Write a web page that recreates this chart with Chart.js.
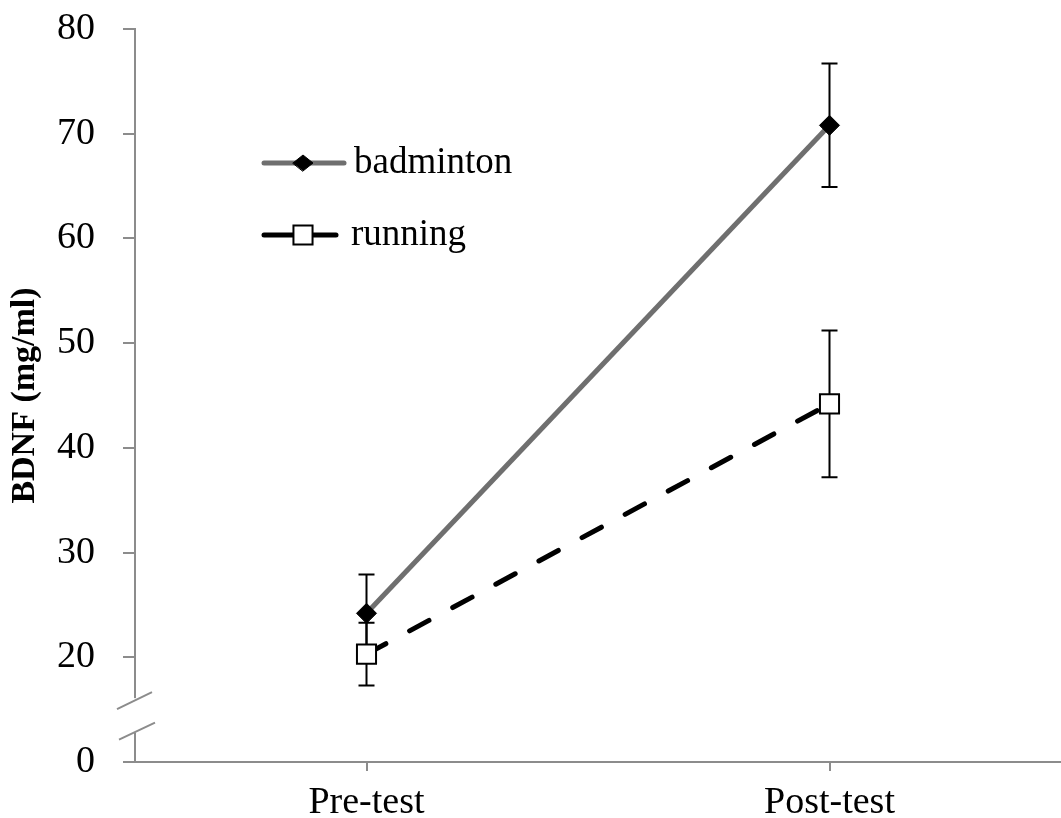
<!DOCTYPE html>
<html>
<head>
<meta charset="utf-8">
<script src="https://cdn.jsdelivr.net/npm/chart.js@4"></script>
<style>
  html, body { margin: 0; padding: 0; background: #fff; }
  #chart { display: block; }
</style>
</head>
<body>
<canvas id="chart" width="1061" height="818"></canvas>
<script>
const categories = ['Pre-test', 'Post-test'];
const badminton = [24.2, 70.8];
const badmintonErr = [3.7, 5.9];
const running = [20.3, 44.2];
const runningErr = [3.0, 7.0];
const yTickValues = [10, 20, 30, 40, 50, 60, 70, 80];
const yTickLabels = ['0', '20', '30', '40', '50', '60', '70', '80'];
const errors = [badmintonErr, runningErr];

const FONT = "'Liberation Serif', 'Times New Roman', serif";
const AXIS = '#8c8c8c';

// error bars, drawn under the markers
const errorBars = {
  id: 'errorBars',
  beforeDatasetsDraw(chart) {
    const ctx = chart.ctx;
    const y = chart.scales.y;
    ctx.save();
    ctx.strokeStyle = '#000';
    ctx.lineWidth = 2;
    chart.data.datasets.forEach((ds, i) => {
      chart.getDatasetMeta(i).data.forEach((pt, j) => {
        const v = ds.data[j], e = errors[i][j];
        const top = y.getPixelForValue(v + e), bot = y.getPixelForValue(v - e);
        ctx.beginPath();
        ctx.moveTo(pt.x, top); ctx.lineTo(pt.x, bot);
        ctx.moveTo(pt.x - 8, top); ctx.lineTo(pt.x + 8, top);
        ctx.moveTo(pt.x - 8, bot); ctx.lineTo(pt.x + 8, bot);
        ctx.stroke();
      });
    });
    ctx.restore();
  }
};

// broken y axis between 0 and 20
const axisBreak = {
  id: 'axisBreak',
  afterDraw(chart) {
    const ctx = chart.ctx;
    const y = chart.scales.y;
    const x0 = chart.chartArea.left;
    const hi = y.getPixelForValue(16.1), lo = y.getPixelForValue(12.8);
    ctx.save();
    ctx.fillStyle = '#fff';
    ctx.fillRect(x0 - 3, hi, 6, lo - hi);
    ctx.strokeStyle = AXIS;
    ctx.lineWidth = 2;
    ctx.beginPath();
    ctx.moveTo(x0 - 18, hi + 11); ctx.lineTo(x0 + 17, hi - 6);
    ctx.moveTo(x0 - 16, lo + 7); ctx.lineTo(x0 + 20, lo - 10);
    ctx.stroke();
    ctx.restore();
  }
};

// legend inside the plot, top left
const innerLegend = {
  id: 'innerLegend',
  afterDraw(chart) {
    const ctx = chart.ctx;
    const rows = [{ y: 163, x2: 346, tx: 354 }, { y: 235, x2: 338, tx: 351 }];
    ctx.save();
    chart.data.datasets.forEach((ds, i) => {
      const r = rows[i];
      ctx.strokeStyle = ds.borderColor;
      ctx.lineWidth = ds.borderWidth;
      ctx.lineCap = 'round';
      ctx.beginPath();
      ctx.moveTo(264, r.y); ctx.lineTo(r.x2 - 2, r.y);
      ctx.stroke();
      ctx.fillStyle = ds.pointBackgroundColor;
      ctx.strokeStyle = ds.pointBorderColor;
      ctx.lineWidth = ds.pointBorderWidth;
      ctx.beginPath();
      if (ds.pointStyle === 'rect') {
        const s = Math.SQRT1_2 * ds.pointRadius;
        ctx.rect(303 - s, r.y - s, 2 * s, 2 * s);
      } else {
        const s = ds.pointRadius;
        ctx.moveTo(303 - s, r.y); ctx.lineTo(303, r.y - s * 0.8);
        ctx.lineTo(303 + s, r.y); ctx.lineTo(303, r.y + s * 0.8); ctx.closePath();
      }
      ctx.fill(); ctx.stroke();
      ctx.fillStyle = '#000';
      ctx.font = '37px ' + FONT;
      ctx.textBaseline = 'middle';
      ctx.fillText(ds.label, r.tx, r.y);
    });
    ctx.restore();
  }
};

new Chart(document.getElementById('chart'), {
  type: 'line',
  data: {
    labels: categories,
    datasets: [
      {
        label: 'badminton', data: badminton,
        borderColor: '#6f6f6f', borderWidth: 5,
        pointStyle: 'rectRot', pointRadius: 10, pointBorderWidth: 1,
        pointBackgroundColor: '#000', pointBorderColor: '#000'
      },
      {
        label: 'running', data: running,
        borderColor: '#000', borderWidth: 5, borderDash: [22, 27], borderCapStyle: 'round',
        pointStyle: 'rect', pointRadius: 13.5, pointBorderWidth: 2,
        pointBackgroundColor: '#fff', pointBorderColor: '#000'
      }
    ]
  },
  options: {
    responsive: false,
    animation: false,
    devicePixelRatio: 1,
    layout: { autoPadding: false, padding: { top: 29, right: 0, bottom: 0, left: 0 } },
    plugins: { legend: { display: false }, tooltip: { enabled: false } },
    scales: {
      x: {
        offset: true,
        grid: { offset: false, drawOnChartArea: false, color: AXIS, lineWidth: 2, tickLength: 9 },
        border: { color: AXIS, width: 2 },
        ticks: { color: '#000', font: { family: FONT, size: 38 }, padding: 9 },
        afterFit(s) { s.height = 56; }
      },
      y: {
        min: 10, max: 80,
        afterBuildTicks(s) { s.ticks = yTickValues.map(v => ({ value: v })); },
        grid: { drawOnChartArea: false, color: AXIS, lineWidth: 2, tickLength: 12 },
        border: { color: AXIS, width: 2 },
        ticks: {
          color: '#000', font: { family: FONT, size: 38 }, padding: 28,
          callback(v) { return yTickLabels[yTickValues.indexOf(v)]; }
        },
        title: {
          display: true, text: 'BDNF (mg/ml)', color: '#000',
          font: { family: FONT, size: 34, weight: 'bold' }, padding: 5
        },
        afterFit(s) { s.width = 135; s.paddingTop = 0; s.paddingBottom = 0; }
      }
    }
  },
  plugins: [errorBars, axisBreak, innerLegend]
});
</script>
</body>
</html>
